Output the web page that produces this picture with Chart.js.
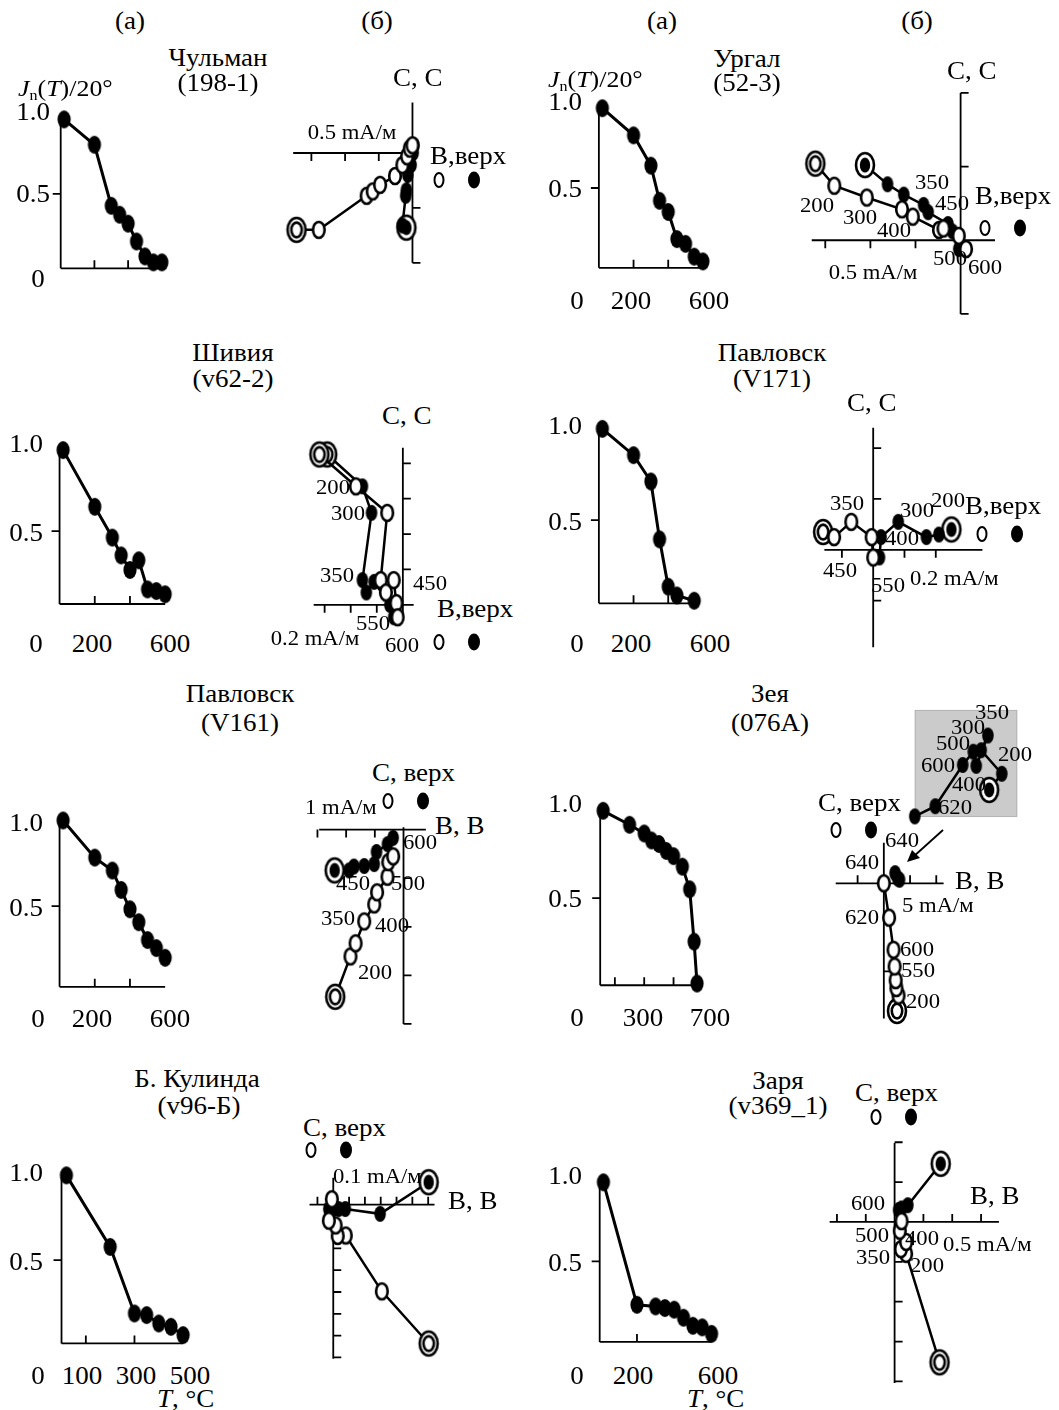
<!DOCTYPE html>
<html><head><meta charset="utf-8">
<script src="https://cdn.jsdelivr.net/npm/chart.js@4.4.0/dist/chart.umd.min.js"></script>
<style>
html,body{margin:0;background:#fff;}
#page{position:relative;width:1059px;height:1410px;overflow:hidden;font-family:'Liberation Serif','Times New Roman',serif;color:#000;}
#page canvas{position:absolute;}
.t{position:absolute;white-space:nowrap;line-height:1;}
.t sub{font-size:0.62em;vertical-align:-0.25em;line-height:0;}
.dot{position:absolute;border-radius:50%;box-sizing:border-box;transform:translate(-50%,-50%);}
</style></head><body><div id="page"></div>
<script>
// (а) thermal demagnetization: T in °C, Jn(T)/Jn(20°)
const chulmanT = [20, 200, 300, 350, 400, 450, 500, 550, 600];
const chulmanJ = [1.0, 0.83, 0.42, 0.36, 0.30, 0.18, 0.08, 0.04, 0.04];
const urgalT = [20, 200, 300, 350, 400, 450, 500, 550, 600];
const urgalJ = [1.0, 0.83, 0.64, 0.42, 0.35, 0.18, 0.15, 0.07, 0.04];
const shiviyaT = [20, 200, 300, 350, 400, 450, 500, 550, 600];
const shiviyaJ = [1.0, 0.65, 0.46, 0.35, 0.26, 0.32, 0.14, 0.13, 0.11];
const pavl171T = [20, 200, 300, 350, 400, 450, 550];
const pavl171J = [1.02, 0.87, 0.72, 0.39, 0.12, 0.07, 0.04];
const pavl161T = [20, 200, 300, 350, 400, 450, 500, 550, 600];
const pavl161J = [1.03, 0.80, 0.72, 0.60, 0.48, 0.40, 0.29, 0.24, 0.18];
const zeyaT = [20, 200, 300, 350, 400, 450, 500, 560, 610, 640, 660];
const zeyaJ = [1.0, 0.92, 0.87, 0.83, 0.81, 0.77, 0.74, 0.68, 0.55, 0.25, 0.01];
const kulindaT = [20, 200, 300, 350, 400, 450, 500];
const kulindaJ = [1.01, 0.58, 0.18, 0.17, 0.12, 0.10, 0.05];
const zaryaT = [20, 200, 300, 350, 400, 450, 500, 550, 600];
const zaryaJ = [0.99, 0.23, 0.22, 0.21, 0.20, 0.15, 0.10, 0.09, 0.05];

// (б) Zijderveld diagrams, mA/m, [horizontal axis, vertical axis]
// Hor = filled (horizontal plane), Vert = open (vertical plane); first point = NRM
const chulmanHor = [[-0.09,-0.68],[-0.15,-0.66],[-0.10,-0.39],[-0.09,-0.34],[-0.07,-0.20],[-0.02,-0.11],[0.01,0.0],[0.02,0.07]];
const chulmanVert = [[-1.72,-0.70],[-1.39,-0.70],[-0.68,-0.39],[-0.59,-0.35],[-0.48,-0.29],[-0.26,-0.21],[-0.15,-0.11],[-0.08,-0.03],[-0.04,0.04],[0.0,0.07]];
const urgalHor = [[-1.06,0.51],[-0.81,0.38],[-0.63,0.31],[-0.41,0.24],[-0.36,0.19],[-0.14,0.11],[-0.09,0.06],[-0.02,-0.06]];
const urgalVert = [[-1.61,0.52],[-1.40,0.37],[-1.04,0.29],[-0.65,0.21],[-0.53,0.16],[-0.24,0.07],[-0.19,0.08],[-0.02,0.03],[0.06,-0.06]];
const shiviyaHor = [[-0.58,0.85],[-0.31,0.67],[-0.24,0.52],[-0.31,0.14],[-0.28,0.07],[-0.22,0.13],[-0.10,0.0],[-0.07,-0.07]];
const shiviyaVert = [[-0.64,0.85],[-0.36,0.67],[-0.12,0.52],[-0.17,0.14],[-0.13,0.07],[-0.07,0.14],[-0.05,0.01],[-0.04,-0.07]];
const pavl171Hor = [[0.50,0.08],[0.42,0.06],[0.34,0.05],[0.16,0.11],[0.05,0.05],[0.04,-0.03]];
const pavl171Vert = [[-0.32,0.07],[-0.25,0.05],[-0.14,0.11],[-0.01,0.05],[0.0,-0.03]];
const pavl161Hor = [[-2.4,-0.84],[-1.9,-0.84],[-1.73,-0.76],[-1.37,-0.75],[-1.02,-0.71],[-0.94,-0.46],[-0.56,-0.30],[-0.36,-0.17]];
const pavl161Vert = [[-2.38,-3.44],[-1.85,-2.61],[-1.67,-2.34],[-1.37,-1.89],[-1.02,-1.54],[-0.92,-1.29],[-0.56,-0.97],[-0.53,-0.67],[-0.36,-0.55]];
const zeyaHor = [[2.15,1.15],[2.65,0.55],[3.0,0.4]];
const zeyaVert = [[2.5,-14.5],[2.8,-12.75],[2.4,-11.9],[2.25,-11.0],[2.05,-9.45],[1.85,-7.55],[1.0,-3.9],[0.0,0.0]];
const zeyaInset = [[7.26,2.53],[8.49,4.04],[6.48,6.24],[7.14,7.61],[6.0,4.78],[5.71,6.1],[4.68,4.86],[2.0,1.01],[0.0,0.06]]; // magnified horizontal plane
const kulindaHor = [[0.603,0.103],[0.296,-0.042],[0.076,-0.02],[0.034,-0.02],[0.0,-0.02],[-0.028,-0.02]];
const kulindaVert = [[0.603,-0.636],[0.307,-0.397],[0.079,-0.141],[0.028,-0.143],[0.015,-0.095],[-0.028,-0.073],[-0.009,0.025]];
const zaryaHor = [[0.80,0.73],[0.23,0.21],[0.12,0.17],[0.07,0.15]];
const zaryaVert = [[0.78,-1.76],[0.20,-0.40],[0.11,-0.34],[0.20,-0.25],[0.09,-0.11],[0.12,0.01]];

const page = document.getElementById('page');

function marker(kind) {
  const c = document.createElement('canvas');
  c.width = 24; c.height = 30;
  const g = c.getContext('2d');
  g.lineWidth = 2.6; g.strokeStyle = '#000';
  if (kind == 'df' || kind == 'do') {
    g.beginPath(); g.ellipse(12, 15, 9, 12, 0, 0, Math.PI*2);
    g.fillStyle = '#fff'; g.fill(); g.stroke();
  }
  g.beginPath();
  if (kind == 'c') g.ellipse(12, 15, 6.6, 9, 0, 0, Math.PI*2);
  else if (kind == 'df' || kind == 'do') g.ellipse(12, 15, 5.2, 7.4, 0, 0, Math.PI*2);
  else g.ellipse(12, 15, 5.8, 8.0, 0, 0, Math.PI*2);
  if (kind == 'f' || kind == 'df' || kind == 'c') { g.fillStyle = '#000'; g.fill(); }
  else { g.fillStyle = '#fff'; g.fill(); g.stroke(); }
  return c;
}
const M = {c: marker('c'), f: marker('f'), o: marker('o'), df: marker('df'), do: marker('do')};

// draws axis lines + ticks through the chart's own scales
const axesPlugin = {
  id: 'axes',
  beforeDatasetsDraw(chart) {
    const o = chart.options.plugins.axes;
    if (!o) return;
    const {ctx} = chart, x = chart.scales.x, y = chart.scales.y;
    ctx.save();
    if (o.rect) {
      const [a, b, c, d] = o.rect;
      const x0 = x.getPixelForValue(a), y0 = y.getPixelForValue(d);
      const x1 = x.getPixelForValue(c), y1 = y.getPixelForValue(b);
      ctx.fillStyle = '#cbcbcb'; ctx.fillRect(x0, y0, x1-x0, y1-y0);
      ctx.strokeStyle = '#b4b4b4'; ctx.lineWidth = 1; ctx.strokeRect(x0+0.5, y0+0.5, x1-x0-1, y1-y0-1);
    }
    ctx.strokeStyle = '#000'; ctx.lineWidth = 1.8;
    ctx.beginPath();
    if (o.h) {
      const py = y.getPixelForValue(o.h.at);
      ctx.moveTo(x.getPixelForValue(o.h.from), py); ctx.lineTo(x.getPixelForValue(o.h.to), py);
      for (const t of o.h.ticks) { const px = x.getPixelForValue(t); ctx.moveTo(px, py); ctx.lineTo(px, py + o.h.dir*8); }
    }
    if (o.v) {
      const px = x.getPixelForValue(o.v.at);
      ctx.moveTo(px, y.getPixelForValue(o.v.from)); ctx.lineTo(px, y.getPixelForValue(o.v.to));
      for (const t of o.v.ticks) { const py = y.getPixelForValue(t); ctx.moveTo(px, py); ctx.lineTo(px + o.v.dir*8, py); }
    }
    ctx.stroke();
    ctx.restore();
  }
};

// box = canvas on the page; map = page pixel of the origin and px per unit
function panel(box, map, datasets, axes) {
  const [left, top, w, h] = box;
  const cv = document.createElement('canvas');
  cv.width = w; cv.height = h;
  cv.style.left = left + 'px'; cv.style.top = top + 'px';
  cv.style.width = w + 'px'; cv.style.height = h + 'px';
  page.appendChild(cv);
  const sc = (min, max) => ({type: 'linear', display: false, bounds: 'data', min, max});
  return new Chart(cv, {
    type: 'scatter',
    data: {datasets},
    options: {
      responsive: false, animation: false, events: [],
      layout: {padding: 0},
      plugins: {legend: {display: false}, tooltip: {enabled: false}, axes},
      scales: {
        x: sc((left - map.ox)/map.kx, (left + w - map.ox)/map.kx),
        y: sc((map.oy - top - h)/map.ky, (map.oy - top)/map.ky)
      }
    },
    plugins: [axesPlugin]
  });
}

function series(pts, first, rest, width) {
  return {
    data: pts.map(p => ({x: p[0], y: p[1]})),
    showLine: true, tension: 0, borderColor: '#000', borderWidth: width,
    pointStyle: pts.map((_, i) => i == 0 ? first : rest), pointRadius: 6, clip: false
  };
}

function curvePanel(box, map, T, J, xEnd, xTicks, base) {
  const pts = T.map((t, i) => [t, J[i]]);
  panel(box, map, [series(pts, M.c, M.c, 3)], {
    h: {at: base, from: 0, to: xEnd, ticks: xTicks, dir: -1},
    v: {at: 0, from: base, to: 1.0, ticks: [0.5], dir: -1}
  });
}

function zijPanel(box, map, hor, vert, ax, firstHor, firstVert) {
  panel(box, map, [series(vert, M[firstVert || 'do'], M.o, 2.5), series(hor, M[firstHor || 'df'], M.f, 2.5)], {
    h: {at: 0, from: ax.h[0], to: ax.h[1], ticks: ax.hT, dir: ax.hd},
    v: {at: 0, from: ax.v[0], to: ax.v[1], ticks: ax.vT, dir: ax.vd}
  });
}

// ---- row 1
curvePanel([40, 95, 150, 195], {ox: 53.3, oy: 276, kx: 0.1915, ky: 164}, chulmanT, chulmanJ, 620, [200, 400], 0);
zijPanel([275, 85, 160, 200], {ox: 419.3, oy: 150, kx: 75.4, ky: 120}, chulmanHor, chulmanVert,
  {h: [-1.77, 0], hT: [-0.5, -1.0, -1.5], hd: 1, v: [-1.0, 0.46], vT: [-0.5, -1.0], vd: 1});
curvePanel([578, 85, 150, 200], {ox: 591.5, oy: 276, kx: 0.197, ky: 175.4}, urgalT, urgalJ, 612, [200, 400], 0);
zijPanel([795, 75, 200, 260], {ox: 966.7, oy: 242.7, kx: 98.6, ky: 157.6}, urgalHor, urgalVert,
  {h: [-1.65, 0.57], hT: [-0.5, -1.0, -1.5], hd: 1, v: [-0.5, 1.0], vT: [1.0, 0.5, -0.5], vd: 1});

// ---- row 2
curvePanel([40, 425, 150, 200], {ox: 52, oy: 620.7, kx: 0.2, ky: 178}, shiviyaT, shiviyaJ, 600, [200, 400], 0.05);
zijPanel([295, 430, 130, 210], {ox: 409.3, oy: 611, kx: 150, ky: 192.5}, shiviyaHor, shiviyaVert,
  {h: [-0.684, 0.083], hT: [-0.2, -0.4, -0.6], hd: 1, v: [-0.09, 0.888], vT: [0.2, 0.4, 0.6, 0.8], vd: 1}, 'do');
curvePanel([578, 405, 150, 220], {ox: 591.5, oy: 616, kx: 0.197, ky: 191}, pavl171T, pavl171J, 567, [200, 400], 0.025);
zijPanel([800, 410, 200, 255], {ox: 870.7, oy: 550.7, kx: 171, ky: 272.5}, pavl171Hor, pavl171Vert,
  {h: [-0.312, 0.698], hT: [-0.2, 0.2, 0.4], hd: 1, v: [-0.383, 0.48], vT: [0.4, 0.2, -0.2], vd: 1});

// ---- row 3
curvePanel([40, 795, 150, 210], {ox: 52, oy: 995, kx: 0.2, ky: 176.7}, pavl161T, pavl161J, 600, [200, 400], 0);
zijPanel([300, 800, 130, 240], {ox: 409.3, oy: 822.7, kx: 33, ky: 52.3}, pavl161Hor, pavl161Vert,
  {h: [-2.94, 0.78], hT: [-1, -2, -3], hd: 1, v: [-4.0, 0.05], vT: [-1, -2, -3, -4], vd: 1});
curvePanel([578, 785, 150, 220], {ox: 593, oy: 993.3, kx: 0.1667, ky: 190}, zeyaT, zeyaJ, 700, [100, 300, 500], 0);
zijPanel([820, 825, 135, 205], {ox: 883.3, oy: 879.3, kx: 6, ky: 9.6}, zeyaHor, zeyaVert,
  {h: [-9.17, 11.4], hT: [-5, 5, 10], hd: -1, v: [-15.35, 4.6], vT: [-10], vd: 1}, 'f');
// magnified inset of the horizontal plane (grey box)
panel([896, 692, 140, 145], {ox: 907.7, oy: 824, kx: 11.66, ky: 12.13}, [series(zeyaInset, M.df, M.f, 2.5)], {rect: [0, 0, 10, 10]});

// ---- row 4
curvePanel([40, 1150, 170, 210], {ox: 54, oy: 1351.7, kx: 0.272, ky: 182}, kulindaT, kulindaJ, 500, [100, 300], 0);
zijPanel([295, 1160, 160, 215], {ox: 328.3, oy: 1199.3, kx: 177, ky: 237}, kulindaHor, kulindaVert,
  {h: [-0.15, 0.64], hT: [-0.1, 0.1, 0.2, 0.3, 0.4, 0.5, 0.6], hd: -1, v: [-0.706, 0.124], vT: [-0.1, -0.2, -0.3, -0.4, -0.5, -0.6, -0.7], vd: 1});
curvePanel([578, 1155, 160, 205], {ox: 592.3, oy: 1350, kx: 0.21, ky: 176.7}, zaryaT, zaryaJ, 600, [200], 0);
zijPanel([815, 1125, 200, 275], {ox: 892.7, oy: 1219.3, kx: 63, ky: 85}, zaryaHor, zaryaVert,
  {h: [-1.127, 1.81], hT: [-1, -0.5, 0.5, 1, 1.5], hd: -1, v: [-2.02, 0.99], vT: [1, 0.5, -0.5, -1, -1.5, -2], vd: 1});

// ---- text
function txt(s, x, y, a, size, html) {
  const d = document.createElement('div');
  d.className = 't';
  if (html) d.innerHTML = s; else d.textContent = s;
  d.style.left = x + 'px'; d.style.top = y + 'px'; d.style.fontSize = (size || 25) + 'px';
  const tx = a == 'l' ? '0' : a == 'r' ? '-100%' : '-50%';
  d.style.transformOrigin = a == 'l' ? 'left center' : a == 'r' ? 'right center' : 'center';
  d.style.transform = 'translate(' + tx + ',-50%) scaleX(1.08)';
  page.appendChild(d);
}
function dot(x, y, filled) {
  const d = document.createElement('div');
  d.className = 'dot';
  d.style.left = x + 'px'; d.style.top = y + 'px';
  if (filled) { d.style.width = '12px'; d.style.height = '17px'; d.style.background = '#000'; }
  else { d.style.width = '11px'; d.style.height = '16px'; d.style.border = '2.5px solid #000'; d.style.background = '#fff'; }
  page.appendChild(d);
}

// headers and titles
[['(а)', 130, 20], ['(б)', 377, 20], ['(а)', 662, 20], ['(б)', 917, 20]].forEach(t => txt(t[0], t[1], t[2], 'c', 25));
[['Чульман', 218, 57], ['(198-1)', 218, 82], ['Ургал', 747, 58], ['(52-3)', 747, 82],
 ['Шивия', 233, 352], ['(v62-2)', 233, 378], ['Павловск', 772, 352], ['(V171)', 772, 378],
 ['Павловск', 240, 693], ['(V161)', 240, 722], ['Зея', 770, 693], ['(076А)', 770, 722],
 ['Б. Кулинда', 197, 1078], ['(v96-Б)', 199, 1105], ['Заря', 778, 1080], ['(v369_1)', 778, 1105]
].forEach(t => txt(t[0], t[1], t[2], 'c', 25));

const jLabel = '<i>J</i><sub>n</sub>(<i>T</i>)/20°';
txt(jLabel, 18, 88, 'l', 24, true);
txt(jLabel, 548, 79, 'l', 24, true);
txt('<i>T</i>, °C', 157, 1398, 'l', 25, true);
txt('<i>T</i>, °C', 687, 1398, 'l', 25, true);

// tick labels of the (а) panels
[['1.0', 50, 111, 'r'], ['0.5', 50, 193, 'r'], ['0', 38, 278, 'c'],
 ['1.0', 582, 101, 'r'], ['0.5', 582, 188, 'r'], ['0', 577, 300, 'c'], ['200', 631, 300, 'c'], ['600', 709, 300, 'c'],
 ['1.0', 43, 443, 'r'], ['0.5', 43, 532, 'r'], ['0', 36, 643, 'c'], ['200', 92, 643, 'c'], ['600', 170, 643, 'c'],
 ['1.0', 582, 425, 'r'], ['0.5', 582, 521, 'r'], ['0', 577, 643, 'c'], ['200', 631, 643, 'c'], ['600', 710, 643, 'c'],
 ['1.0', 43, 822, 'r'], ['0.5', 43, 907, 'r'], ['0', 38, 1018, 'c'], ['200', 92, 1018, 'c'], ['600', 170, 1018, 'c'],
 ['1.0', 582, 803, 'r'], ['0.5', 582, 898, 'r'], ['0', 577, 1017, 'c'], ['300', 643, 1017, 'c'], ['700', 710, 1017, 'c'],
 ['1.0', 43, 1172, 'r'], ['0.5', 43, 1261, 'r'], ['0', 38, 1375, 'c'], ['100', 82, 1375, 'c'], ['300', 136, 1375, 'c'], ['500', 190, 1375, 'c'],
 ['1.0', 582, 1175, 'r'], ['0.5', 582, 1262, 'r'], ['0', 577, 1375, 'c'], ['200', 633, 1375, 'c'], ['600', 718, 1375, 'c']
].forEach(t => txt(t[0], t[1], t[2], t[3], 25));

// axis names of the (б) panels
[['С, С', 393, 77], ['В,верх', 430, 155], ['С, С', 947, 70], ['В,верх', 975, 195],
 ['С, С', 382, 415], ['В,верх', 437, 608], ['С, С', 847, 402], ['В,верх', 965, 505],
 ['С, верх', 372, 772], ['В, В', 435, 825], ['С, верх', 818, 802], ['В, В', 955, 880],
 ['С, верх', 303, 1127], ['В, В', 448, 1200], ['С, верх', 855, 1092], ['В, В', 970, 1195]
].forEach(t => txt(t[0], t[1], t[2], 'l', 25));

// scale bars
[['0.5 mA/м', 352, 132, 'c'], ['0.5 mA/м', 873, 272, 'c'], ['0.2 mA/м', 315, 638, 'c'], ['0.2 mA/м', 910, 578, 'l'],
 ['1 mA/м', 305, 807, 'l'], ['5 mA/м', 902, 905, 'l'], ['0.1 mA/м', 333, 1176, 'l'], ['0.5 mA/м', 943, 1244, 'l']
].forEach(t => txt(t[0], t[1], t[2], t[3], 21));

// temperature steps
[['200', 817, 205], ['300', 860, 217], ['400', 894, 230], ['500', 950, 258], ['600', 985, 267], ['350', 932, 182], ['450', 952, 203],
 ['200', 333, 487], ['300', 348, 513], ['350', 337, 575], ['450', 430, 583], ['550', 373, 623], ['600', 402, 645],
 ['350', 847, 503], ['300', 917, 510], ['200', 948, 500], ['400', 902, 538], ['450', 840, 570], ['550', 888, 585],
 ['600', 420, 842], ['450', 353, 883], ['500', 408, 883], ['350', 338, 918], ['400', 392, 925], ['200', 375, 972],
 ['350', 992, 712], ['300', 968, 727], ['500', 953, 743], ['600', 938, 765], ['200', 1015, 754], ['400', 969, 784], ['620', 955, 807],
 ['640', 902, 840], ['640', 862, 862], ['620', 862, 917], ['600', 917, 949], ['550', 918, 970], ['200', 923, 1001],
 ['600', 868, 1203], ['500', 872, 1235], ['400', 922, 1238], ['350', 873, 1257], ['200', 927, 1265]
].forEach(t => txt(t[0], t[1], t[2], 'c', 21));

// legends: open = vertical plane, filled = horizontal plane
[[439, 180], [985, 228], [439, 642], [982, 534], [388, 801], [836, 830], [311, 1150], [876, 1117]].forEach(p => {
  dot(p[0], p[1], false); dot(p[0] + 35, p[1], true);
});

// arrow from the inset to the origin of the Зея diagram
page.insertAdjacentHTML('beforeend',
  '<svg style="position:absolute;left:0;top:0" width="1059" height="1410"><line x1="943" y1="830" x2="913" y2="857" stroke="#000" stroke-width="1.8"/>' +
  '<polygon points="907,862 912,850 920,858" fill="#000"/></svg>');
</script></body></html>
